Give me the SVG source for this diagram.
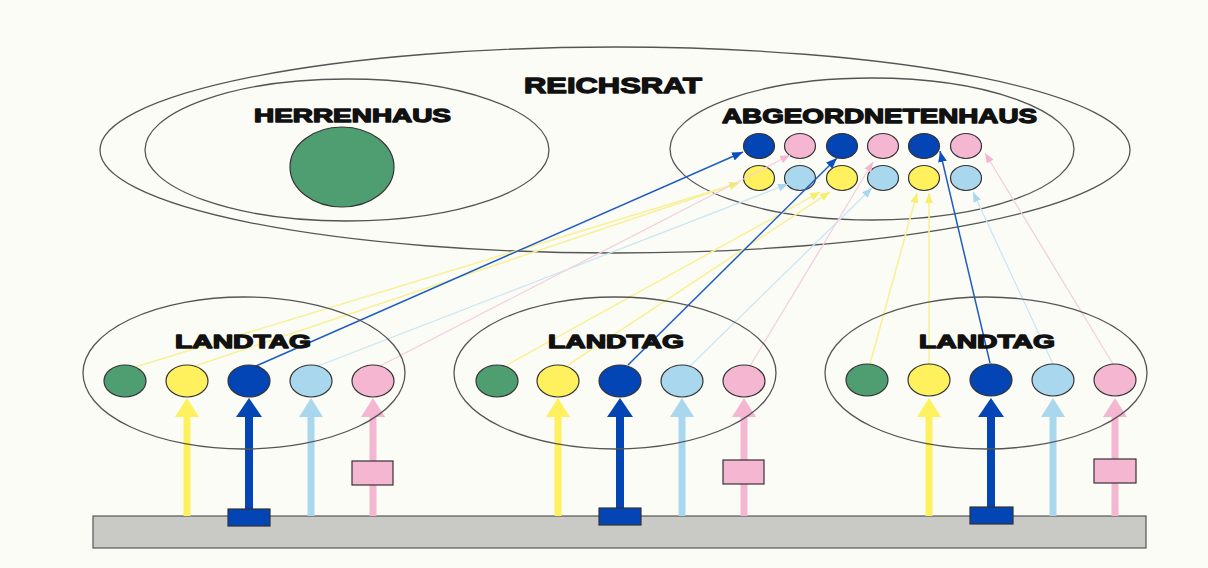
<svg xmlns="http://www.w3.org/2000/svg" width="1208" height="568" viewBox="0 0 1208 568">
<style>
.bg{fill:#fcfcf7}
.ring{fill:none;stroke:#555;stroke-width:1.3}
.lbl{font-family:"Liberation Sans",Arial,sans-serif;font-weight:bold;fill:#111;stroke:#111;stroke-width:1.3;stroke-linejoin:round;text-anchor:start}
.c{stroke:#333;stroke-width:1.2}
.green{fill:#4f9e72}
.yellow{fill:#fff15e}
.blue{fill:#0345b4}
.lblue{fill:#a9d8ee}
.pink{fill:#f4b6d1}
.thin{fill:none}
.tb{stroke:#1f5cc0;stroke-width:1.5}
.ty{stroke:#f7f19a;stroke-width:1.6}
.tl{stroke:#c9e6f3;stroke-width:1.3}
.tp{stroke:#f4cfdd;stroke-width:1.3}
.bar{fill:#c9c9c6;stroke:#555;stroke-width:1.2}
</style>
<defs>
<marker id="mb" viewBox="0 0 10 8" refX="10" refY="4" markerWidth="11" markerHeight="9" markerUnits="userSpaceOnUse" orient="auto"><path d="M0,0L10,4L0,8z" fill="#0a4fc0"/></marker>
<marker id="my" viewBox="0 0 10 8" refX="10" refY="4" markerWidth="10" markerHeight="8" markerUnits="userSpaceOnUse" orient="auto"><path d="M0,0L10,4L0,8z" fill="#f7ee6a"/></marker>
<marker id="ml" viewBox="0 0 10 8" refX="10" refY="4" markerWidth="10" markerHeight="8" markerUnits="userSpaceOnUse" orient="auto"><path d="M0,0L10,4L0,8z" fill="#a9d8ee"/></marker>
<marker id="mp" viewBox="0 0 10 8" refX="10" refY="4" markerWidth="10" markerHeight="8" markerUnits="userSpaceOnUse" orient="auto"><path d="M0,0L10,4L0,8z" fill="#f4b6d1"/></marker>
</defs>
<rect class="bg" x="0" y="0" width="1208" height="568"/>

<g id="reichsrat">
<ellipse class="ring" cx="615" cy="150" rx="515" ry="103"/>
<text class="lbl" x="524" y="93" font-size="22" textLength="178" lengthAdjust="spacingAndGlyphs">REICHSRAT</text>
</g>

<g id="herrenhaus">
<ellipse class="ring" cx="347" cy="150" rx="202" ry="71"/>
<text class="lbl" x="254" y="122" font-size="19" textLength="197" lengthAdjust="spacingAndGlyphs">HERRENHAUS</text>
<ellipse class="c green" cx="342" cy="167" rx="52" ry="40"/>
</g>

<g id="abgeordnetenhaus">
<ellipse class="ring" cx="872" cy="149" rx="202" ry="71"/>
<text class="lbl" x="722" y="123" font-size="20" textLength="315" lengthAdjust="spacingAndGlyphs">ABGEORDNETENHAUS</text>
<ellipse class="c blue" cx="759" cy="146" rx="15.5" ry="12.5"/>
<ellipse class="c pink" cx="800" cy="146" rx="15.5" ry="12.5"/>
<ellipse class="c blue" cx="842" cy="146" rx="15.5" ry="12.5"/>
<ellipse class="c pink" cx="883" cy="146" rx="15.5" ry="12.5"/>
<ellipse class="c blue" cx="924" cy="146" rx="15.5" ry="12.5"/>
<ellipse class="c pink" cx="966" cy="146" rx="15.5" ry="12.5"/>
<ellipse class="c yellow" cx="759" cy="178" rx="15.5" ry="12.5"/>
<ellipse class="c lblue" cx="800" cy="178" rx="15.5" ry="12.5"/>
<ellipse class="c yellow" cx="842" cy="178" rx="15.5" ry="12.5"/>
<ellipse class="c lblue" cx="883" cy="178" rx="15.5" ry="12.5"/>
<ellipse class="c yellow" cx="924" cy="178" rx="15.5" ry="12.5"/>
<ellipse class="c lblue" cx="966" cy="178" rx="15.5" ry="12.5"/>
</g>

<g id="base">
<rect class="bar" x="93" y="516" width="1053" height="32"/>
</g>

<g id="connectors">
<line class="thin ty" x1="135" y1="367" x2="739" y2="183" marker-end="url(#my)"/>
<line class="thin ty" x1="195" y1="366" x2="739" y2="183" marker-end="url(#my)"/>
<line class="thin ty" x1="507" y1="365" x2="820" y2="192" marker-end="url(#my)"/>
<line class="thin ty" x1="568" y1="365" x2="830" y2="192" marker-end="url(#my)"/>
<line class="thin ty" x1="870" y1="364" x2="917" y2="193" marker-end="url(#my)"/>
<line class="thin ty" x1="929" y1="364" x2="929" y2="193" marker-end="url(#my)"/>
<line class="thin tl" x1="318" y1="366" x2="788" y2="184" marker-end="url(#ml)"/>
<line class="thin tl" x1="690" y1="366" x2="872" y2="188" marker-end="url(#ml)"/>
<line class="thin tl" x1="1053" y1="364" x2="973" y2="192" marker-end="url(#ml)"/>
<line class="thin tp" x1="380" y1="366" x2="790" y2="155" marker-end="url(#mp)"/>
<line class="thin tp" x1="750" y1="366" x2="873" y2="162" marker-end="url(#mp)"/>
<line class="thin tp" x1="1113" y1="364" x2="985" y2="153" marker-end="url(#mp)"/>
<line class="thin tb" x1="256" y1="366" x2="743" y2="152" marker-end="url(#mb)"/>
<line class="thin tb" x1="628" y1="365" x2="837" y2="158" marker-end="url(#mb)"/>
<line class="thin tb" x1="990" y1="363" x2="940" y2="151" marker-end="url(#mb)"/>

<g id="up-arrows">
<line x1="187" y1="516" x2="187" y2="412" stroke="#fff15e" stroke-width="7"/>
<polygon points="187,398 175,417 199,417" fill="#fff15e"/>
<line x1="249" y1="512" x2="249" y2="412" stroke="#0345b4" stroke-width="8"/>
<polygon points="249,398 236,417 262,417" fill="#0345b4"/>
<line x1="311" y1="516" x2="311" y2="412" stroke="#a9d8ee" stroke-width="7"/>
<polygon points="311,398 299,417 323,417" fill="#a9d8ee"/>
<line x1="373" y1="516" x2="373" y2="412" stroke="#f4b6d1" stroke-width="7"/>
<polygon points="373,398 361,417 385,417" fill="#f4b6d1"/>
<line x1="558" y1="516" x2="558" y2="412" stroke="#fff15e" stroke-width="7"/>
<polygon points="558,398 546,417 570,417" fill="#fff15e"/>
<line x1="620" y1="512" x2="620" y2="412" stroke="#0345b4" stroke-width="8"/>
<polygon points="620,398 607,417 633,417" fill="#0345b4"/>
<line x1="682" y1="516" x2="682" y2="412" stroke="#a9d8ee" stroke-width="7"/>
<polygon points="682,398 670,417 694,417" fill="#a9d8ee"/>
<line x1="744" y1="516" x2="744" y2="412" stroke="#f4b6d1" stroke-width="7"/>
<polygon points="744,398 732,417 756,417" fill="#f4b6d1"/>
<line x1="929" y1="516" x2="929" y2="412" stroke="#fff15e" stroke-width="7"/>
<polygon points="929,398 917,417 941,417" fill="#fff15e"/>
<line x1="991" y1="512" x2="991" y2="412" stroke="#0345b4" stroke-width="8"/>
<polygon points="991,398 978,417 1004,417" fill="#0345b4"/>
<line x1="1053" y1="516" x2="1053" y2="412" stroke="#a9d8ee" stroke-width="7"/>
<polygon points="1053,398 1041,417 1065,417" fill="#a9d8ee"/>
<line x1="1115" y1="516" x2="1115" y2="412" stroke="#f4b6d1" stroke-width="7"/>
<polygon points="1115,398 1103,417 1127,417" fill="#f4b6d1"/>
</g>
</g>

<g id="landtag-1">
<ellipse class="ring" cx="244" cy="373" rx="161" ry="76"/>
<text class="lbl" x="175" y="348" font-size="19" textLength="136" lengthAdjust="spacingAndGlyphs">LANDTAG</text>
<ellipse class="c green" cx="125" cy="381" rx="21" ry="16"/>
<ellipse class="c yellow" cx="187" cy="381" rx="21" ry="16"/>
<ellipse class="c blue" cx="249" cy="381" rx="21" ry="16"/>
<ellipse class="c lblue" cx="311" cy="381" rx="21" ry="16"/>
<ellipse class="c pink" cx="373" cy="381" rx="21" ry="16"/>
<rect class="c pink" x="352" y="461" width="41" height="24"/>
<rect class="c blue" x="228" y="509" width="42" height="17"/>
</g>

<g id="landtag-2">
<ellipse class="ring" cx="615" cy="373" rx="161" ry="76"/>
<text class="lbl" x="548" y="348" font-size="19" textLength="136" lengthAdjust="spacingAndGlyphs">LANDTAG</text>
<ellipse class="c green" cx="497" cy="381" rx="21" ry="16"/>
<ellipse class="c yellow" cx="558" cy="381" rx="21" ry="16"/>
<ellipse class="c blue" cx="620" cy="381" rx="21" ry="16"/>
<ellipse class="c lblue" cx="682" cy="381" rx="21" ry="16"/>
<ellipse class="c pink" cx="744" cy="381" rx="21" ry="16"/>
<rect class="c pink" x="723" y="460" width="41" height="24"/>
<rect class="c blue" x="599" y="508" width="42" height="17"/>
</g>

<g id="landtag-3">
<ellipse class="ring" cx="986" cy="373" rx="161" ry="76"/>
<text class="lbl" x="919" y="348" font-size="19" textLength="136" lengthAdjust="spacingAndGlyphs">LANDTAG</text>
<ellipse class="c green" cx="867" cy="380" rx="21" ry="16"/>
<ellipse class="c yellow" cx="929" cy="380" rx="21" ry="16"/>
<ellipse class="c blue" cx="991" cy="380" rx="21" ry="16"/>
<ellipse class="c lblue" cx="1053" cy="380" rx="21" ry="16"/>
<ellipse class="c pink" cx="1115" cy="380" rx="21" ry="16"/>
<rect class="c pink" x="1094" y="459" width="42" height="24"/>
<rect class="c blue" x="970" y="507" width="43" height="17"/>
</g>
</svg>
